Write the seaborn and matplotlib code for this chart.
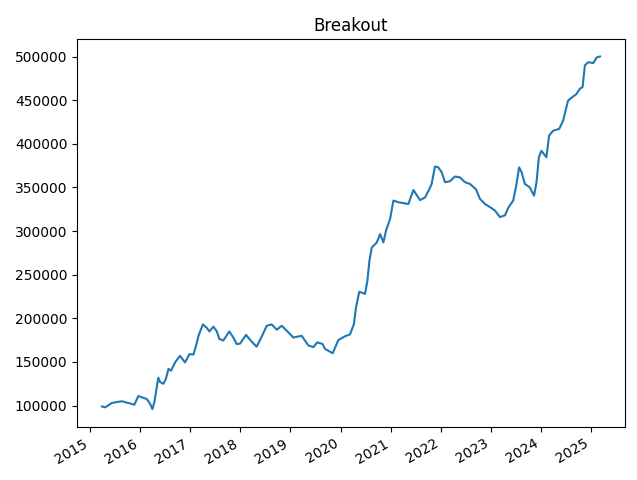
import pandas as pd
import matplotlib
matplotlib.use("Agg")
import matplotlib.pyplot as plt
import seaborn as sns

# Equity curve
dates = [
    "2015-03-28", "2015-04-20", "2015-06-08", "2015-08-19", "2015-10-06", "2015-11-19",
    "2015-12-18", "2016-02-18", "2016-03-13", "2016-03-30", "2016-04-13", "2016-05-12",
    "2016-05-25", "2016-06-18", "2016-07-06", "2016-07-25", "2016-08-13", "2016-09-11",
    "2016-10-17", "2016-11-23", "2016-12-25", "2017-01-23", "2017-02-12", "2017-03-01",
    "2017-04-02", "2017-05-01", "2017-05-20", "2017-06-18", "2017-07-13", "2017-07-31",
    "2017-08-29", "2017-10-12", "2017-11-10", "2017-12-05", "2017-12-29", "2018-02-11",
    "2018-03-17", "2018-04-29", "2018-06-05", "2018-07-12", "2018-08-17", "2018-09-23",
    "2018-10-29", "2018-12-16", "2019-01-22", "2019-03-24", "2019-05-11", "2019-06-17",
    "2019-07-16", "2019-08-24", "2019-09-10", "2019-11-05", "2019-12-16", "2020-02-03",
    "2020-03-10", "2020-04-08", "2020-04-23", "2020-05-17", "2020-06-28", "2020-07-15",
    "2020-07-30", "2020-08-16", "2020-09-22", "2020-10-16", "2020-11-09", "2020-11-28",
    "2020-12-28", "2021-01-21", "2021-02-26", "2021-05-10", "2021-06-16", "2021-08-03",
    "2021-09-09", "2021-10-10", "2021-10-27", "2021-11-20", "2021-12-14", "2022-01-08",
    "2022-02-01", "2022-03-09", "2022-04-15", "2022-05-21", "2022-06-27", "2022-08-02",
    "2022-09-15", "2022-10-14", "2022-11-20", "2022-12-26", "2023-02-01", "2023-03-09",
    "2023-04-15", "2023-05-08", "2023-06-14", "2023-07-08", "2023-07-27", "2023-08-14",
    "2023-09-07", "2023-10-13", "2023-11-13", "2023-12-01", "2023-12-18", "2024-01-06",
    "2024-02-11", "2024-03-02", "2024-03-31", "2024-05-14", "2024-06-12", "2024-07-18",
    "2024-08-19", "2024-09-17", "2024-10-12", "2024-11-01", "2024-11-18", "2024-12-12",
    "2025-01-18", "2025-02-12", "2025-03-08",
]
equity = [
    99000, 98000, 103000, 105000, 103000, 101000,
    111000, 107500, 102000, 96000, 104000, 132000,
    127000, 125000, 130500, 142000, 140000, 149500,
    157000, 149500, 159000, 158500, 169000, 180000,
    193000, 189000, 185000, 190500, 185000, 176500,
    174500, 185000, 178000, 170500, 171000, 181000,
    174500, 167500, 179000, 191500, 193000, 187000,
    191500, 184000, 178000, 180000, 169000, 167000,
    172500, 170500, 165000, 160000, 175000, 179500,
    181500, 193500, 212500, 230500, 228000, 243000,
    266000, 281000, 287000, 296500, 287000, 300500,
    314000, 335000, 333000, 331000, 347000, 335500,
    338500, 348000, 354000, 374000, 373000, 367500,
    356000, 357000, 362500, 361500, 356000, 354000,
    348000, 337000, 331000, 327500, 323500, 316000,
    318000, 326500, 335000, 354000, 373000, 367500,
    354000, 350000, 340500, 356000, 384500, 392000,
    384500, 409500, 415000, 417000, 426500, 449500,
    453500, 457000, 463000, 465000, 490000, 493500,
    492500, 499000, 500000,
]

df = pd.DataFrame({"date": pd.to_datetime(dates), "equity": equity})

fig, ax = plt.subplots(figsize=(6.37, 4.8), dpi=100)
sns.lineplot(data=df, x="date", y="equity", ax=ax, color="#1f77b4", linewidth=1.5)
ax.set_title("Breakout")
ax.set_xlabel("")
ax.set_ylabel("")
fig.autofmt_xdate()
fig.subplots_adjust(left=0.121, right=0.981, bottom=0.111, top=0.919)
fig.savefig("out.png", dpi=100)
